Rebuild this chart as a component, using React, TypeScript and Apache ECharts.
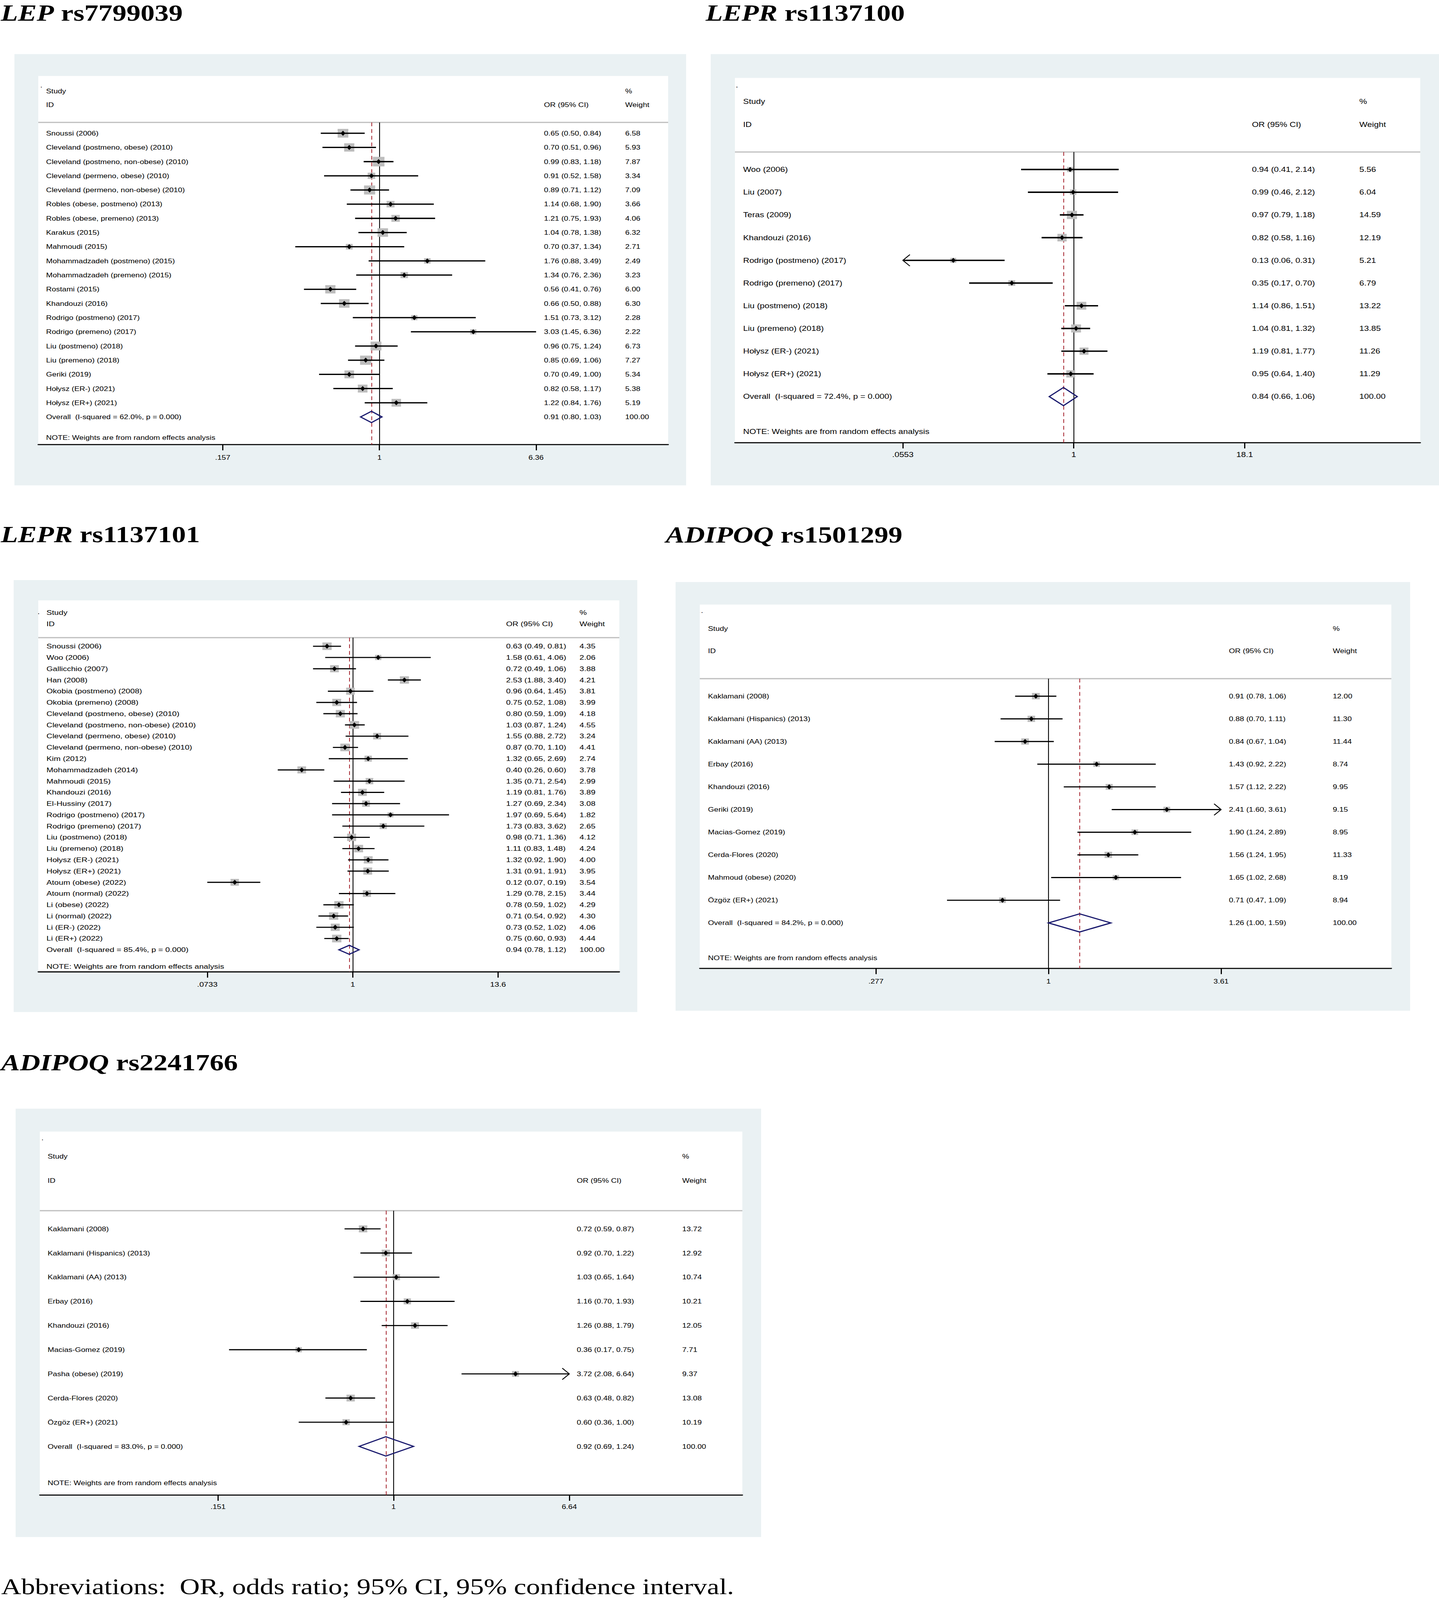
import React, { useEffect, useRef } from 'react';
import * as echarts from 'echarts';

const PAGE_W = 3685;
const PAGE_H = 5031;
const SANS = "'Liberation Sans', Arial, sans-serif";
const SERIF = "'Liberation Serif', 'Times New Roman', serif";

// ---------- Panel 1: LEP rs7799039 ----------
const P1_STUDIES = [
  'Snoussi (2006)',
  'Cleveland (postmeno, obese) (2010)',
  'Cleveland (postmeno, non-obese) (2010)',
  'Cleveland (permeno, obese) (2010)',
  'Cleveland (permeno, non-obese) (2010)',
  'Robles (obese, postmeno) (2013)',
  'Robles (obese, premeno) (2013)',
  'Karakus (2015)',
  'Mahmoudi (2015)',
  'Mohammadzadeh (postmeno) (2015)',
  'Mohammadzadeh (premeno) (2015)',
  'Rostami (2015)',
  'Khandouzi (2016)',
  'Rodrigo (postmeno) (2017)',
  'Rodrigo (premeno) (2017)',
  'Liu (postmeno) (2018)',
  'Liu (premeno) (2018)',
  'Geriki (2019)',
  'Hołysz (ER-) (2021)',
  'Hołysz (ER+) (2021)',
];
const P1_OR = [0.65, 0.70, 0.99, 0.91, 0.89, 1.14, 1.21, 1.04, 0.70, 1.76, 1.34, 0.56, 0.66, 1.51, 3.03, 0.96, 0.85, 0.70, 0.82, 1.22];
const P1_LO = [0.50, 0.51, 0.83, 0.52, 0.71, 0.68, 0.75, 0.78, 0.37, 0.88, 0.76, 0.41, 0.50, 0.73, 1.45, 0.75, 0.69, 0.49, 0.58, 0.84];
const P1_HI = [0.84, 0.96, 1.18, 1.58, 1.12, 1.90, 1.93, 1.38, 1.34, 3.49, 2.36, 0.76, 0.88, 3.12, 6.36, 1.24, 1.06, 1.00, 1.17, 1.76];
const P1_WEIGHT = [6.58, 5.93, 7.87, 3.34, 7.09, 3.66, 4.06, 6.32, 2.71, 2.49, 3.23, 6.00, 6.30, 2.28, 2.22, 6.73, 7.27, 5.34, 5.38, 5.19];
const P1_OVERALL = [0.91, 0.80, 1.03];
const P1_HET = 'Overall  (I-squared = 62.0%, p = 0.000)';
const P1_TICKS = [0.157, 1, 6.36];
const P1_TICK_LABELS = ['.157', '1', '6.36'];
const P1_ARROWS: number[] = [];

// ---------- Panel 2: LEPR rs1137100 ----------
const P2_STUDIES = [
  'Woo (2006)',
  'Liu (2007)',
  'Teras (2009)',
  'Khandouzi (2016)',
  'Rodrigo (postmeno) (2017)',
  'Rodrigo (premeno) (2017)',
  'Liu (postmeno) (2018)',
  'Liu (premeno) (2018)',
  'Hołysz (ER-) (2021)',
  'Hołysz (ER+) (2021)',
];
const P2_OR = [0.94, 0.99, 0.97, 0.82, 0.13, 0.35, 1.14, 1.04, 1.19, 0.95];
const P2_LO = [0.41, 0.46, 0.79, 0.58, 0.06, 0.17, 0.86, 0.81, 0.81, 0.64];
const P2_HI = [2.14, 2.12, 1.18, 1.16, 0.31, 0.70, 1.51, 1.32, 1.77, 1.40];
const P2_WEIGHT = [5.56, 6.04, 14.59, 12.19, 5.21, 6.79, 13.22, 13.85, 11.26, 11.29];
const P2_OVERALL = [0.84, 0.66, 1.06];
const P2_HET = 'Overall  (I-squared = 72.4%, p = 0.000)';
const P2_TICKS = [0.0553, 1, 18.1];
const P2_TICK_LABELS = ['.0553', '1', '18.1'];
const P2_ARROWS = [4];

// ---------- Panel 3: LEPR rs1137101 ----------
const P3_STUDIES = [
  'Snoussi (2006)',
  'Woo (2006)',
  'Gallicchio (2007)',
  'Han (2008)',
  'Okobia (postmeno) (2008)',
  'Okobia (premeno) (2008)',
  'Cleveland (postmeno, obese) (2010)',
  'Cleveland (postmeno, non-obese) (2010)',
  'Cleveland (permeno, obese) (2010)',
  'Cleveland (permeno, non-obese) (2010)',
  'Kim (2012)',
  'Mohammadzadeh (2014)',
  'Mahmoudi (2015)',
  'Khandouzi (2016)',
  'El-Hussiny (2017)',
  'Rodrigo (postmeno) (2017)',
  'Rodrigo (premeno) (2017)',
  'Liu (postmeno) (2018)',
  'Liu (premeno) (2018)',
  'Hołysz (ER-) (2021)',
  'Hołysz (ER+) (2021)',
  'Atoum (obese) (2022)',
  'Atoum (normal) (2022)',
  'Li (obese) (2022)',
  'Li (normal) (2022)',
  'Li (ER-) (2022)',
  'Li (ER+) (2022)',
];
const P3_OR = [0.63, 1.58, 0.72, 2.53, 0.96, 0.75, 0.80, 1.03, 1.55, 0.87, 1.32, 0.40, 1.35, 1.19, 1.27, 1.97, 1.73, 0.98, 1.11, 1.32, 1.31, 0.12, 1.29, 0.78, 0.71, 0.73, 0.75];
const P3_LO = [0.49, 0.61, 0.49, 1.88, 0.64, 0.52, 0.59, 0.87, 0.88, 0.70, 0.65, 0.26, 0.71, 0.81, 0.69, 0.69, 0.83, 0.71, 0.83, 0.92, 0.91, 0.07, 0.78, 0.59, 0.54, 0.52, 0.60];
const P3_HI = [0.81, 4.06, 1.06, 3.40, 1.45, 1.08, 1.09, 1.24, 2.72, 1.10, 2.69, 0.60, 2.54, 1.76, 2.34, 5.64, 3.62, 1.36, 1.48, 1.90, 1.91, 0.19, 2.15, 1.02, 0.92, 1.02, 0.93];
const P3_WEIGHT = [4.35, 2.06, 3.88, 4.21, 3.81, 3.99, 4.18, 4.55, 3.24, 4.41, 2.74, 3.78, 2.99, 3.89, 3.08, 1.82, 2.65, 4.12, 4.24, 4.00, 3.95, 3.54, 3.44, 4.29, 4.30, 4.06, 4.44];
const P3_OVERALL = [0.94, 0.78, 1.12];
const P3_HET = 'Overall  (I-squared = 85.4%, p = 0.000)';
const P3_TICKS = [0.0733, 1, 13.6];
const P3_TICK_LABELS = ['.0733', '1', '13.6'];
const P3_ARROWS: number[] = [];

// ---------- Panel 4: ADIPOQ rs1501299 ----------
const P4_STUDIES = [
  'Kaklamani (2008)',
  'Kaklamani (Hispanics) (2013)',
  'Kaklamani (AA) (2013)',
  'Erbay (2016)',
  'Khandouzi (2016)',
  'Geriki (2019)',
  'Macias-Gomez (2019)',
  'Cerda-Flores (2020)',
  'Mahmoud (obese) (2020)',
  'Özgöz (ER+) (2021)',
];
const P4_OR = [0.91, 0.88, 0.84, 1.43, 1.57, 2.41, 1.90, 1.56, 1.65, 0.71];
const P4_LO = [0.78, 0.70, 0.67, 0.92, 1.12, 1.60, 1.24, 1.24, 1.02, 0.47];
const P4_HI = [1.06, 1.11, 1.04, 2.22, 2.22, 3.61, 2.89, 1.95, 2.68, 1.09];
const P4_WEIGHT = [12.00, 11.30, 11.44, 8.74, 9.95, 9.15, 8.95, 11.33, 8.19, 8.94];
const P4_OVERALL = [1.26, 1.00, 1.59];
const P4_HET = 'Overall  (I-squared = 84.2%, p = 0.000)';
const P4_TICKS = [0.277, 1, 3.61];
const P4_TICK_LABELS = ['.277', '1', '3.61'];
const P4_ARROWS = [5];

// ---------- Panel 5: ADIPOQ rs2241766 ----------
const P5_STUDIES = [
  'Kaklamani (2008)',
  'Kaklamani (Hispanics) (2013)',
  'Kaklamani (AA) (2013)',
  'Erbay (2016)',
  'Khandouzi (2016)',
  'Macias-Gomez (2019)',
  'Pasha (obese) (2019)',
  'Cerda-Flores (2020)',
  'Özgöz (ER+) (2021)',
];
const P5_OR = [0.72, 0.92, 1.03, 1.16, 1.26, 0.36, 3.72, 0.63, 0.60];
const P5_LO = [0.59, 0.70, 0.65, 0.70, 0.88, 0.17, 2.08, 0.48, 0.36];
const P5_HI = [0.87, 1.22, 1.64, 1.93, 1.79, 0.75, 6.64, 0.82, 1.00];
const P5_WEIGHT = [13.72, 12.92, 10.74, 10.21, 12.05, 7.71, 9.37, 13.08, 10.19];
const P5_OVERALL = [0.92, 0.69, 1.24];
const P5_HET = 'Overall  (I-squared = 83.0%, p = 0.000)';
const P5_TICKS = [0.151, 1, 6.64];
const P5_TICK_LABELS = ['.151', '1', '6.64'];
const P5_ARROWS = [6];

const TITLES = [
  ['LEP', 'rs7799039'],
  ['LEPR', 'rs1137100'],
  ['LEPR', 'rs1137101'],
  ['ADIPOQ', 'rs1501299'],
  ['ADIPOQ', 'rs2241766'],
];
const FOOTNOTE = 'Abbreviations:  OR, odds ratio; 95% CI, 95% confidence interval.';
const NOTE = 'NOTE: Weights are from random effects analysis';

// ---------- Layout (pixels) ----------
const LAYOUTS = [
  { outer: [37, 170, 1757, 1526], inner: [98, 239, 1711], sep: 385, first: 419, step: 44.6, axis: 1398, dot: [103, 268], studyY: 286, idY: 330, noteY: 1376, colS: 118, colOR: 1393, colW: 1601, font: 20, xMin: -4.03, xMax: 3.41, boxK: 10.7, ciW: 4, lblMargin: 30, title: [2, 40] },
  { outer: [1820, 170, 3685, 1526], inner: [1882, 245, 3637], sep: 478, first: 533, step: 71.4, axis: 1392, dot: [1884, 267], studyY: 319, idY: 391, noteY: 1357, colS: 1903, colOR: 3206, colW: 3481, font: 22, xMin: -5.74, xMax: 5.87, boxK: 6.8, ciW: 4.5, lblMargin: 27, title: [1807, 40] },
  { outer: [35, 1824, 1632, 3182], inner: [98, 1888, 1586], sep: 2005, first: 2032, step: 35.35, axis: 3056, dot: [96, 1924], studyY: 1926, idY: 1962, noteY: 3039, colS: 119, colOR: 1296, colW: 1484, font: 21, xMin: -5.65, xMax: 4.79, boxK: 11.4, ciW: 3.6, lblMargin: 29, title: [2, 1680] },
  { outer: [1730, 1830, 3611, 3178], inner: [1792, 1901, 3563], sep: 2134, first: 2189, step: 71.3, axis: 3045, dot: [1795, 1920], studyY: 1976, idY: 2047, noteY: 3012, colS: 1813, colOR: 3147, colW: 3413, font: 20, xMin: -2.594, xMax: 2.55, boxK: 5.8, ciW: 3.6, lblMargin: 31, title: [1705, 1681] },
  { outer: [40, 3486, 1949, 4833], inner: [102, 3558, 1901], sep: 3807, first: 3864, step: 76, axis: 4701, dot: [106, 3578], studyY: 3636, idY: 3712, noteY: 4663, colS: 122, colOR: 1477, colW: 1747, font: 20, xMin: -3.81, xMax: 3.757, boxK: 5.9, ciW: 3.6, lblMargin: 27, title: [3, 3341] },
];
const FOOT_POS = [3, 4988];

const PANELS = [
  { studies: P1_STUDIES, or: P1_OR, lo: P1_LO, hi: P1_HI, w: P1_WEIGHT, overall: P1_OVERALL, het: P1_HET, ticks: P1_TICKS, tickLabels: P1_TICK_LABELS, arrows: P1_ARROWS },
  { studies: P2_STUDIES, or: P2_OR, lo: P2_LO, hi: P2_HI, w: P2_WEIGHT, overall: P2_OVERALL, het: P2_HET, ticks: P2_TICKS, tickLabels: P2_TICK_LABELS, arrows: P2_ARROWS },
  { studies: P3_STUDIES, or: P3_OR, lo: P3_LO, hi: P3_HI, w: P3_WEIGHT, overall: P3_OVERALL, het: P3_HET, ticks: P3_TICKS, tickLabels: P3_TICK_LABELS, arrows: P3_ARROWS },
  { studies: P4_STUDIES, or: P4_OR, lo: P4_LO, hi: P4_HI, w: P4_WEIGHT, overall: P4_OVERALL, het: P4_HET, ticks: P4_TICKS, tickLabels: P4_TICK_LABELS, arrows: P4_ARROWS },
  { studies: P5_STUDIES, or: P5_OR, lo: P5_LO, hi: P5_HI, w: P5_WEIGHT, overall: P5_OVERALL, het: P5_HET, ticks: P5_TICKS, tickLabels: P5_TICK_LABELS, arrows: P5_ARROWS },
];

const OUTER_BG = '#eaf1f3';
const BOX = '#bdbdbd';
const NAVY = '#17176c';
const RED = '#a3202a';
const SEP = '#c2c2c2';

const fmt = (v: number) => v.toFixed(2);
const ciText = (o: number, l: number, h: number) => `${fmt(o)} (${fmt(l)}, ${fmt(h)})`;

function txt(x: number, y: number, text: string, size: number, extra: any = {}) {
  return {
    type: 'text',
    x,
    y,
    silent: true,
    style: { text, fill: '#000', fontSize: size, fontFamily: SANS, align: 'left', verticalAlign: 'middle', ...extra },
  };
}

function buildOption() {
  const graphic: any[] = [];
  const grid: any[] = [];
  const xAxis: any[] = [];
  const yAxis: any[] = [];
  const series: any[] = [];

  PANELS.forEach((p, i) => {
    const L = LAYOUTS[i];
    const [ox0, oy0, ox1, oy1] = L.outer;
    const [ix0, iy0, ix1] = L.inner;
    graphic.push({ type: 'rect', z: -20, silent: true, shape: { x: ox0, y: oy0, width: ox1 - ox0, height: oy1 - oy0 }, style: { fill: OUTER_BG } });
    graphic.push({ type: 'rect', z: -19, silent: true, shape: { x: ix0, y: iy0, width: ix1 - ix0, height: L.axis - iy0 }, style: { fill: '#ffffff' } });
    graphic.push({ type: 'line', z: -18, silent: true, shape: { x1: ix0, y1: L.sep, x2: ix1, y2: L.sep }, style: { stroke: SEP, lineWidth: 4 } });
    const [gene, snp] = TITLES[i];
    graphic.push({
      type: 'text', x: L.title[0], y: L.title[1], silent: true,
      style: {
        text: `{g|${gene}} {s|${snp}}`,
        verticalAlign: 'middle', align: 'left',
        rich: {
          g: { fontFamily: SERIF, fontSize: 72, fontWeight: 'bold', fontStyle: 'italic', fill: '#000' },
          s: { fontFamily: SERIF, fontSize: 72, fontWeight: 'bold', fill: '#000' },
        },
        fontFamily: SERIF, fontSize: 72, fontWeight: 'bold',
      },
    });
    graphic.push(txt(L.dot[0], L.dot[1], '.', L.font));
    graphic.push(txt(L.colS, L.studyY, 'Study', L.font));
    graphic.push(txt(L.colS, L.idY, 'ID', L.font));
    graphic.push(txt(L.colOR, L.idY, 'OR (95% CI)', L.font));
    graphic.push(txt(L.colW, L.studyY, '%', L.font));
    graphic.push(txt(L.colW, L.idY, 'Weight', L.font));
    graphic.push(txt(L.colS, L.noteY, NOTE, L.font));

    grid.push({ left: ix0, top: L.sep, width: ix1 - ix0, height: L.axis - L.sep, containLabel: false, show: false });

    const tickLn = p.ticks.map((t) => Math.log(t));
    xAxis.push({
      gridIndex: i,
      type: 'value',
      min: L.xMin,
      max: L.xMax,
      position: 'bottom',
      axisLine: { show: true, onZero: false, lineStyle: { color: '#000', width: 3.5 } },
      axisTick: { show: true, inside: false, length: 18, customValues: tickLn, lineStyle: { color: '#000', width: 3 } },
      axisLabel: {
        show: true,
        customValues: tickLn,
        margin: L.lblMargin,
        fontSize: L.font,
        fontFamily: SANS,
        color: '#000',
        formatter: (v: number) => {
          const k = tickLn.findIndex((t) => Math.abs(t - v) < 1e-6);
          return k >= 0 ? p.tickLabels[k] : '';
        },
      },
      splitLine: { show: false },
    });
    const n = p.studies.length;
    yAxis.push({
      gridIndex: i,
      type: 'value',
      inverse: true,
      min: -(L.first - L.sep) / L.step,
      max: (L.axis - L.first) / L.step,
      show: false,
      splitLine: { show: false },
    });

    const tMin = tickLn[0];
    const tMax = tickLn[tickLn.length - 1];
    const lnOverall = Math.log(p.overall[0]);

    series.push({
      type: 'line',
      xAxisIndex: i,
      yAxisIndex: i,
      data: [],
      z: 1,
      silent: true,
      markLine: {
        silent: true,
        symbol: ['none', 'none'],
        label: { show: false },
        animation: false,
        data: [
          { xAxis: 0, lineStyle: { color: '#000', width: 2.2, type: 'solid' } },
          { xAxis: lnOverall, lineStyle: { color: RED, width: 2, type: [12, 9] } },
        ],
      },
    });

    series.push({
      type: 'custom',
      xAxisIndex: i,
      yAxisIndex: i,
      z: 5,
      clip: false,
      silent: true,
      encode: { x: 0, y: 1 },
      data: p.or.map((v, k) => [Math.log(v), k, Math.log(p.lo[k]), Math.log(p.hi[k]), p.w[k], k]),
      renderItem: (params: any, api: any) => {
        const idx = api.value(5) as number;
        const row = api.value(1) as number;
        const lnOr = api.value(0) as number;
        const c = api.coord([lnOr, row]);
        const y = c[1];
        const arrow = p.arrows.indexOf(idx) >= 0;
        let l = Math.max(api.value(2) as number, tMin);
        let h = Math.min(api.value(3) as number, tMax);
        if (arrow && lnOr < 0) l = tMin;
        if (arrow && lnOr > 0) h = tMax;
        const x0 = api.coord([l, row])[0];
        const x1 = api.coord([h, row])[0];
        const s = L.boxK * Math.sqrt(api.value(4) as number);
        const dw = 6;
        const dh = 8;
        const children: any[] = [
          { type: 'rect', shape: { x: c[0] - s / 2, y: y - s / 2, width: s, height: s }, style: { fill: BOX } },
          { type: 'line', shape: { x1: x0, y1: y, x2: x1, y2: y }, style: { stroke: '#000', lineWidth: L.ciW } },
          { type: 'polygon', shape: { points: [[c[0] - dw, y], [c[0], y - dh], [c[0] + dw, y], [c[0], y + dh]] }, style: { fill: '#000' } },
          txt(L.colS, y, p.studies[idx], L.font),
          txt(L.colOR, y, ciText(p.or[idx], p.lo[idx], p.hi[idx]), L.font),
          txt(L.colW, y, fmt(p.w[idx]), L.font),
        ];
        if (arrow) {
          const tipX = lnOr < 0 ? x0 : x1;
          const dir = lnOr < 0 ? 1 : -1;
          children.push({
            type: 'polyline',
            shape: { points: [[tipX + dir * 18, y - 18], [tipX, y], [tipX + dir * 18, y + 18]] },
            style: { stroke: '#000', lineWidth: 2.5, fill: 'none' },
          });
        }
        return { type: 'group', children };
      },
    });

    series.push({
      type: 'custom',
      xAxisIndex: i,
      yAxisIndex: i,
      z: 6,
      clip: false,
      silent: true,
      encode: { x: 0, y: 1 },
      data: [[lnOverall, n, Math.log(p.overall[1]), Math.log(p.overall[2])]],
      renderItem: (params: any, api: any) => {
        const row = api.value(1) as number;
        const c = api.coord([api.value(0), row]);
        const xl = api.coord([api.value(2), row])[0];
        const xr = api.coord([api.value(3), row])[0];
        const hh = api.size([0, 0.8])[1] / 2;
        const y = c[1];
        return {
          type: 'group',
          children: [
            {
              type: 'polygon',
              shape: { points: [[xl, y], [c[0], y - hh], [xr, y], [c[0], y + hh]] },
              style: { fill: 'none', stroke: NAVY, lineWidth: 3.5 },
            },
            txt(L.colS, y, p.het, L.font),
            txt(L.colOR, y, ciText(p.overall[0], p.overall[1], p.overall[2]), L.font),
            txt(L.colW, y, '100.00', L.font),
          ],
        };
      },
    });
  });

  graphic.push({
    type: 'text', x: FOOT_POS[0], y: FOOT_POS[1], silent: true,
    style: { text: FOOTNOTE, fill: '#000', fontFamily: SERIF, fontSize: 71, align: 'left', verticalAlign: 'middle' },
  });

  return {
    animation: false,
    backgroundColor: '#ffffff',
    tooltip: { show: false },
    graphic: { elements: graphic },
    grid,
    xAxis,
    yAxis,
    series,
  };
}

export default function App() {
  const ref = useRef<HTMLDivElement>(null);
  useEffect(() => {
    document.body.style.margin = '0';
    document.body.style.overflow = 'hidden';
    const el = ref.current;
    if (!el) return;
    // The browser's viewport can be shorter than the page; fit the full page into it.
    const vh = window.innerHeight || PAGE_H;
    const vw = window.innerWidth || PAGE_W;
    const ky = Math.min(1, vh / PAGE_H);
    const kx = Math.min(1, vw / PAGE_W);
    el.style.transformOrigin = '0 0';
    el.style.transform = `scale(${kx}, ${ky})`;
    const chart = echarts.init(el, undefined, { renderer: 'svg', width: PAGE_W, height: PAGE_H });
    chart.setOption(buildOption() as any);
    return () => chart.dispose();
  }, []);
  return <div ref={ref} style={{ display: 'block', width: PAGE_W, height: PAGE_H, background: '#fff' }} />;
}
